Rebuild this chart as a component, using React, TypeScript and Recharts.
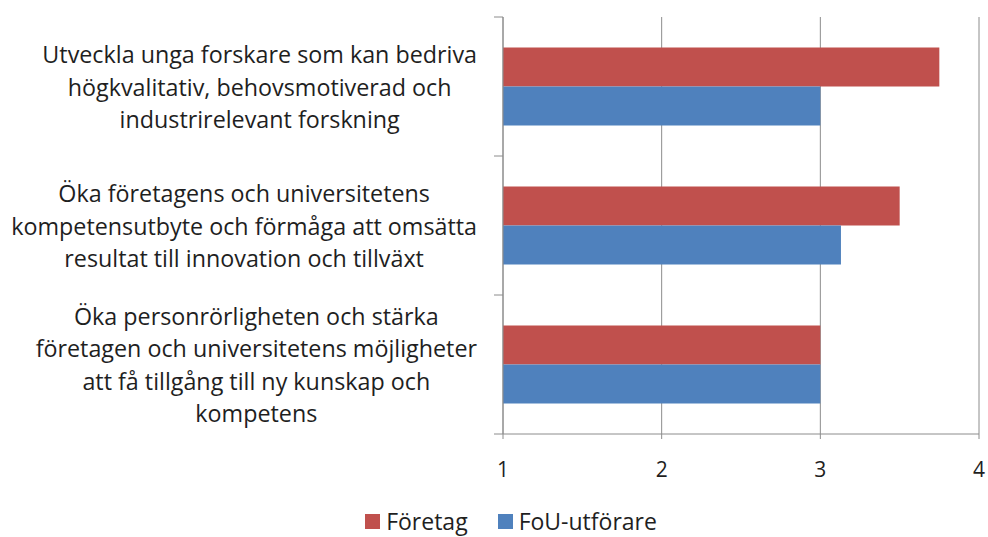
import React from "react";
import { BarChart, Bar, XAxis, YAxis, CartesianGrid, Legend } from "recharts";

const categories = [
  "Utveckla unga forskare som kan bedriva\nhögkvalitativ, behovsmotiverad och\nindustrirelevant forskning",
  "Öka företagens och universitetens\nkompetensutbyte och förmåga att omsätta\nresultat till innovation och tillväxt",
  "Öka personrörligheten och stärka\nföretagen och universitetens möjligheter\natt få tillgång till ny kunskap och\nkompetens",
];
const foretag = [3.75, 3.5, 3.0];
const fou = [3.0, 3.13, 3.0];
const xTicks = [1, 2, 3, 4];
const seriesNames = ["Företag", "FoU-utförare"];

const data = categories.map((name, i) => ({ name, foretag: foretag[i], fou: fou[i] }));

const RED = "#C0504D";
const BLUE = "#4F81BD";
const GRID = "#8C8C8C";
const TEXT = "#1F1F1F";
const FONT = '"Open Sans", sans-serif';
const LABEL_SIZE = 23.3;
const LINE_H = 32.6;
const LABEL_RIGHT = 477;
const BAND_FALLBACK = 139;

let ctx: CanvasRenderingContext2D | null = null;
function measure(s: string): number {
  if (!ctx) {
    const c = document.createElement("canvas");
    ctx = c.getContext("2d");
  }
  if (!ctx) return s.length * LABEL_SIZE * 0.5;
  ctx.font = `${LABEL_SIZE}px ${FONT}`;
  return ctx.measureText(s).width;
}

const CategoryTick = (props: any) => {
  const { y, payload, index } = props;
  const lines: string[] = String(payload.value).split("\n");
  const maxW = Math.max(...lines.map(measure));
  const cx = LABEL_RIGHT - maxW / 2;
  const half = payload && payload.offset ? payload.offset : BAND_FALLBACK / 2;
  const n = lines.length;
  const axisX = 503;
  return (
    <g>
      <line x1={axisX - 9} x2={axisX} y1={y - half} y2={y - half} stroke={GRID} strokeWidth={1} />
      {index === categories.length - 1 ? (
        <line x1={axisX - 9} x2={axisX} y1={y + half} y2={y + half} stroke={GRID} strokeWidth={1} />
      ) : null}
      {lines.map((ln, i) => (
        <text
          key={i}
          x={cx}
          y={y + (i - (n - 1) / 2) * LINE_H + 9}
          textAnchor="middle"
          fill={TEXT}
          fontFamily={FONT}
          fontSize={LABEL_SIZE}
        >
          {ln}
        </text>
      ))}
    </g>
  );
};

const renderLegend = () => {
  const colors = [RED, BLUE];
  return (
    <div
      style={{
        display: "flex",
        justifyContent: "center",
        alignItems: "center",
        paddingLeft: 34,
        fontFamily: FONT,
        fontSize: 23,
        lineHeight: "26px",
        color: TEXT,
      }}
    >
      {seriesNames.map((nm, i) => (
        <div key={nm} style={{ display: "flex", alignItems: "center", marginRight: i === 0 ? 30 : 0 }}>
          <span style={{ display: "inline-block", width: 15, height: 15, background: colors[i], marginRight: 6 }} />
          <span>{nm}</span>
        </div>
      ))}
    </div>
  );
};

export default function App() {
  return (
    <div style={{ position: "absolute", left: 0, top: 0, width: 988, height: 537, background: "#fff" }}>
      <BarChart
        width={988}
        height={537}
        data={data}
        layout="vertical"
        margin={{ top: 17, right: 9, bottom: 43, left: 0 }}
        barCategoryGap="22%"
        barGap={0}
      >
        <CartesianGrid horizontal={false} vertical={true} stroke={GRID} strokeWidth={1} />
        <XAxis
          type="number"
          domain={[1, 4]}
          ticks={xTicks}
          allowDataOverflow
          height={60}
          tickSize={5}
          tickMargin={23}
          axisLine={{ stroke: GRID }}
          tickLine={{ stroke: GRID }}
          tick={{ fill: TEXT, fontFamily: FONT, fontSize: 21 }}
        />
        <YAxis
          type="category"
          dataKey="name"
          width={503}
          axisLine={{ stroke: GRID }}
          tickLine={false}
          interval={0}
          tick={<CategoryTick />}
        />
        <Legend
          verticalAlign="middle"
          align="center"
          layout="horizontal"
          wrapperStyle={{ top: 508, left: 0, width: 988 }}
          content={renderLegend}
        />
        <Bar dataKey="foretag" name={seriesNames[0]} fill={RED} isAnimationActive={false} />
        <Bar dataKey="fou" name={seriesNames[1]} fill={BLUE} isAnimationActive={false} />
      </BarChart>
    </div>
  );
}
